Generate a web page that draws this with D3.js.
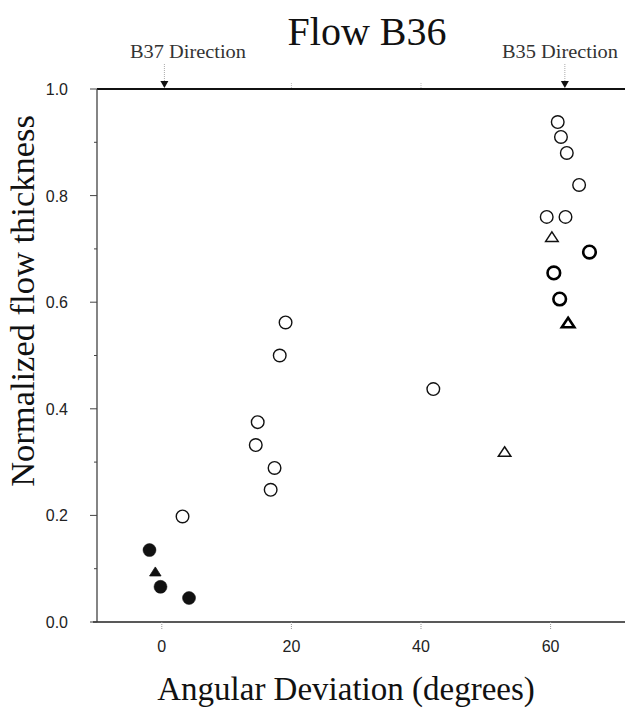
<!DOCTYPE html>
<html>
<head>
<meta charset="utf-8">
<script src="https://cdn.jsdelivr.net/npm/d3@7"></script>
<style>
  html, body { margin: 0; padding: 0; background: #fff; }
  svg { display: block; }
</style>
</head>
<body>
<svg id="chart" width="625" height="710"></svg>
<script>
// ---------------- data ----------------
const titleText = "Flow B36";
const xTitle = "Angular Deviation (degrees)";
const yTitle = "Normalized flow thickness";
const xTickValues = [0, 20, 40, 60];
const yTickValues = [0.0, 0.2, 0.4, 0.6, 0.8, 1.0];
const directionLabels = ["B37 Direction", "B35 Direction"];
const directionAngles = [0.4, 62.2];

// filled circles
const filledCircleX = [-1.9, -0.2, 4.2];
const filledCircleY = [0.135, 0.066, 0.045];
// filled triangles
const filledTriangleX = [-1.0];
const filledTriangleY = [0.094];
// open circles
const openCircleX = [3.2, 19.1, 18.2, 14.8, 14.5, 17.4, 16.8, 41.9, 61.1, 61.6, 62.5, 64.4, 59.4, 62.3];
const openCircleY = [0.198, 0.562, 0.500, 0.375, 0.332, 0.289, 0.248, 0.437, 0.938, 0.910, 0.880, 0.820, 0.760, 0.760];
// open triangles
const openTriangleX = [60.2, 52.9];
const openTriangleY = [0.722, 0.319];
// heavy-outlined circles
const boldCircleX = [66.0, 60.5, 61.4];
const boldCircleY = [0.694, 0.655, 0.606];
// heavy-outlined triangles
const boldTriangleX = [62.7];
const boldTriangleY = [0.561];

// ---------------- layout ----------------
const svg = d3.select("#chart");
const x = d3.scaleLinear().domain([-10, 72]).range([97, 97 + 82 * 6.48]);
const y = d3.scaleLinear().domain([0, 1]).range([622, 89]);

const serif = "'Liberation Serif', 'Times New Roman', serif";
const sans = "'Liberation Sans', Arial, sans-serif";

// Title
svg.append("text").attr("x", 367).attr("y", 45)
  .attr("text-anchor", "middle").attr("font-family", serif)
  .attr("font-size", 40).attr("fill", "#111").text(titleText);

// Top line
svg.append("line").attr("x1", x(-10)).attr("x2", 625)
  .attr("y1", y(1)).attr("y2", y(1))
  .attr("stroke", "#111").attr("stroke-width", 2);

// Bottom axis line
svg.append("line").attr("x1", x(-10) - 4).attr("x2", 625)
  .attr("y1", y(0)).attr("y2", y(0))
  .attr("stroke", "#222").attr("stroke-width", 1.5);

// Left axis line
svg.append("line").attr("x1", x(-10)).attr("x2", x(-10))
  .attr("y1", y(1)).attr("y2", y(0))
  .attr("stroke", "#333").attr("stroke-width", 1.2);

// Y ticks (major + minor)
const yMinor = d3.range(0, 1.0001, 0.1);
svg.append("g").selectAll("line").data(yMinor).join("line")
  .attr("x1", d => x(-10) - (Math.round(d * 10) % 2 === 0 ? 7 : 3))
  .attr("x2", x(-10))
  .attr("y1", d => y(d)).attr("y2", d => y(d))
  .attr("stroke", "#444").attr("stroke-width", 1);

svg.append("g").selectAll("text").data(yTickValues).join("text")
  .attr("x", 68).attr("y", d => y(d) + 6)
  .attr("text-anchor", "end").attr("font-family", sans)
  .attr("font-size", 16).attr("fill", "#222")
  .text(d3.format(".1f"));

// X ticks
svg.append("g").selectAll("line").data(xTickValues).join("line")
  .attr("x1", d => x(d)).attr("x2", d => x(d))
  .attr("y1", y(0)).attr("y2", y(0) + 7)
  .attr("stroke", "#999").attr("stroke-width", 1)
  .attr("stroke-dasharray", "1,1");
svg.append("g").selectAll("line").data([20, 40]).join("line")
  .attr("x1", d => x(d)).attr("x2", d => x(d))
  .attr("y1", y(1) - 6).attr("y2", y(1))
  .attr("stroke", "#bbb").attr("stroke-width", 1)
  .attr("stroke-dasharray", "1,1");

svg.append("g").selectAll("text").data(xTickValues).join("text")
  .attr("x", d => x(d)).attr("y", 652)
  .attr("text-anchor", "middle").attr("font-family", sans)
  .attr("font-size", 16).attr("fill", "#222")
  .text(d => d);

// Axis titles
svg.append("text").attr("x", 346).attr("y", 700)
  .attr("text-anchor", "middle").attr("font-family", serif)
  .attr("font-size", 33).attr("fill", "#111").text(xTitle);

svg.append("text")
  .attr("transform", `translate(34, 301) rotate(-90)`)
  .attr("text-anchor", "middle").attr("font-family", serif)
  .attr("font-size", 34.5).attr("fill", "#111").text(yTitle);

// Direction markers
const dirTextX = [188, 560];
directionLabels.forEach((lab, i) => {
  const ax = x(directionAngles[i]);
  svg.append("text").attr("x", dirTextX[i]).attr("y", 58)
    .attr("text-anchor", "middle").attr("font-family", serif)
    .attr("font-size", 19).attr("fill", "#333")
    .attr("textLength", 116).attr("lengthAdjust", "spacingAndGlyphs")
    .text(lab);
  svg.append("line").attr("x1", ax).attr("x2", ax)
    .attr("y1", 64).attr("y2", y(1) - 6)
    .attr("stroke", "#aaa").attr("stroke-width", 1)
    .attr("stroke-dasharray", "1,1");
  svg.append("path")
    .attr("d", `M${ax - 4},${y(1) - 8} L${ax + 4},${y(1) - 8} L${ax},${y(1) - 1} Z`)
    .attr("fill", "#111");
});

// Marker helpers
const triPath = (w, h) => `M0,${-h * 0.55} L${w / 2},${h * 0.45} L${-w / 2},${h * 0.45} Z`;
const pts = (xs, ys) => xs.map((v, i) => ({ x: v, y: ys[i] }));

const g = svg.append("g");

g.selectAll("circle.open").data(pts(openCircleX, openCircleY)).join("circle")
  .attr("cx", d => x(d.x)).attr("cy", d => y(d.y)).attr("r", 6.3)
  .attr("fill", "none").attr("stroke", "#111").attr("stroke-width", 1.4);

g.selectAll("circle.bold").data(pts(boldCircleX, boldCircleY)).join("circle")
  .attr("cx", d => x(d.x)).attr("cy", d => y(d.y)).attr("r", 6.3)
  .attr("fill", "none").attr("stroke", "#000").attr("stroke-width", 2.6);

g.selectAll("circle.filled").data(pts(filledCircleX, filledCircleY)).join("circle")
  .attr("cx", d => x(d.x)).attr("cy", d => y(d.y)).attr("r", 6.5)
  .attr("fill", "#111").attr("stroke", "#111").attr("stroke-width", 0.5);

g.selectAll("path.otri").data(pts(openTriangleX, openTriangleY)).join("path")
  .attr("transform", d => `translate(${x(d.x)},${y(d.y)})`)
  .attr("d", triPath(12.5, 9.5))
  .attr("fill", "none").attr("stroke", "#111").attr("stroke-width", 1.5)
  .attr("stroke-linejoin", "miter");

g.selectAll("path.btri").data(pts(boldTriangleX, boldTriangleY)).join("path")
  .attr("transform", d => `translate(${x(d.x)},${y(d.y)})`)
  .attr("d", triPath(12.5, 9.5))
  .attr("fill", "none").attr("stroke", "#000").attr("stroke-width", 2.6)
  .attr("stroke-linejoin", "miter");

g.selectAll("path.ftri").data(pts(filledTriangleX, filledTriangleY)).join("path")
  .attr("transform", d => `translate(${x(d.x)},${y(d.y)})`)
  .attr("d", triPath(11.5, 9))
  .attr("fill", "#111").attr("stroke", "#111").attr("stroke-width", 0.8);
</script>
</body>
</html>
